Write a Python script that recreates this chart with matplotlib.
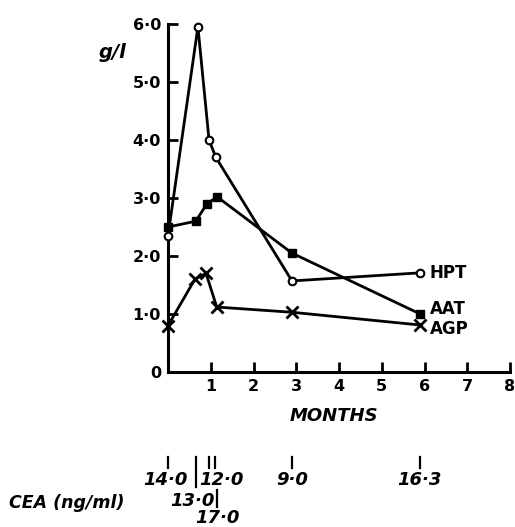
import numpy as np
import matplotlib
matplotlib.use("Agg")
import matplotlib.pyplot as plt
from matplotlib.transforms import blended_transform_factory

# serum protein levels (g/l) against time in months
hpt_months = [0.0, 0.70, 0.96, 1.12, 2.9, 5.9]
hpt_values = [2.35, 5.95, 4.0, 3.7, 1.57, 1.71]

aat_months = [0.0, 0.65, 0.91, 1.15, 2.9, 5.9]
aat_values = [2.5, 2.6, 2.9, 3.02, 2.05, 1.0]

agp_months = [0.0, 0.63, 0.89, 1.14, 2.9, 5.9]
agp_values = [0.8, 1.6, 1.7, 1.12, 1.03, 0.81]

yticks = [0, 1, 2, 3, 4, 5, 6]
ytick_labels = ["0", "1·0", "2·0", "3·0", "4·0", "5·0", "6·0"]
xticks = [1, 2, 3, 4, 5, 6, 7, 8]

# CEA readings (ng/ml) taken along the same time scale
cea_months = [0.0, 0.65, 0.96, 1.1, 2.9, 5.9]
cea_values = [14.0, 13.0, 12.0, 17.0, 9.0, 16.3]

W, H = 515, 527
fig = plt.figure(figsize=(W / 100, H / 100), dpi=100)
ax = fig.add_axes([168 / W, 155 / H, 342 / W, 348 / H])

lw = 2.0
ax.plot(hpt_months, hpt_values, color="black", lw=lw, marker="o", ms=5.5,
        mfc="white", mec="black", mew=1.5, clip_on=False, zorder=3)
ax.plot(aat_months, aat_values, color="black", lw=lw, marker="s", ms=6,
        mfc="black", mec="black", clip_on=False, zorder=3)
ax.plot(agp_months, agp_values, color="black", lw=lw, marker="x", ms=9,
        mew=2.0, clip_on=False, zorder=3)

ax.set_xlim(0, 8)
ax.set_ylim(0, 6)
for s in ["top", "right"]:
    ax.spines[s].set_visible(False)
for s in ["left", "bottom"]:
    ax.spines[s].set_linewidth(2.2)

ax.set_yticks(yticks)
ax.set_yticklabels(ytick_labels)
ax.set_xticks(xticks)
ax.set_xticklabels([str(t) for t in xticks])
ax.tick_params(direction="in", length=7, width=2, pad=5)
for lab in ax.get_xticklabels() + ax.get_yticklabels():
    lab.set_fontweight("bold")
    lab.set_fontsize(11.5)

# series names at the right-hand end of each line
ax.text(6.12, 1.71, "HPT", fontsize=12, fontweight="bold", va="center", ha="left")
ax.text(6.12, 1.09, "AAT", fontsize=12, fontweight="bold", va="center", ha="left")
ax.text(6.12, 0.74, "AGP", fontsize=12, fontweight="bold", va="center", ha="left")

fig.text(112 / W, 1 - 52 / H, "g/l", fontsize=14, fontweight="bold",
         style="italic", ha="center", va="center")
fig.text(334 / W, 1 - 416 / H, "MONTHS", fontsize=13, fontweight="bold",
         style="italic", ha="center", va="center")
fig.text(67 / W, 1 - 503 / H, "CEA (ng/ml)", fontsize=12.5,
         fontweight="bold", style="italic", ha="center", va="center")

# CEA values written under the time axis
tr = blended_transform_factory(ax.transData, fig.transFigure)
tick_spans = [(457, 468), (457, 487), (457, 468), (457, 468), (457, 468), (457, 468)]
label_pos = [(-0.07, 480), (0.56, 501), (1.26, 480), (1.15, 518), (2.9, 480), (5.87, 480)]
for m, v, (t0, t1), (lx, ly) in zip(cea_months, cea_values, tick_spans, label_pos):
    fig.add_artist(plt.Line2D([m, m], [1 - t0 / H, 1 - t1 / H], color="black",
                              lw=1.6, transform=tr))
    fig.text(lx, 1 - ly / H, f"{v:.1f}".replace(".", "·"), transform=tr,
             fontsize=13, fontweight="bold", style="italic",
             ha="center", va="center")
# connector down to the 17·0 reading
fig.add_artist(plt.Line2D([1.15, 1.15], [1 - 490 / H, 1 - 507 / H], color="black",
                          lw=1.6, transform=tr))

fig.savefig("out.png", dpi=100)
